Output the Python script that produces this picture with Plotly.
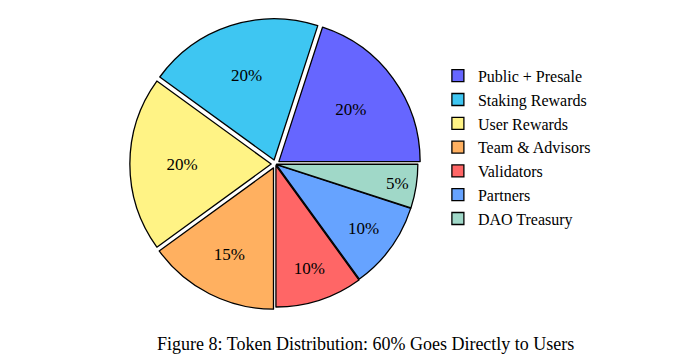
import plotly.graph_objects as go

labels = ["Public + Presale", "Staking Rewards", "User Rewards", "Team & Advisors",
          "Validators", "Partners", "DAO Treasury"]
values = [20, 20, 20, 15, 10, 10, 5]
colors = ["#6666FF", "#3EC6F2", "#FFF385", "#FFB060", "#FF6666", "#66A3FF", "#A0D8C8"]
pulls = [0.03, 0.03, 0.03, 0.03, 0.012, 0.008, 0.008]
caption = "Figure 8: Token Distribution: 60% Goes Directly to Users"

FONT = "Liberation Serif"

fig = go.Figure(go.Pie(
    labels=labels, values=values, sort=False, direction="counterclockwise",
    rotation=18, pull=pulls,
    marker=dict(colors=colors, line=dict(color="black", width=1.3)),
    textinfo="percent", texttemplate="%{value}%", textposition="inside",
    insidetextorientation="horizontal",
    textfont=dict(family=FONT, size=17, color="black"),
    domain=dict(x=[0.18, 0.61], y=[0.165, 0.975]),
    hoverinfo="label+percent",
))

fig.update_layout(
    width=677, height=363,
    margin=dict(l=0, r=0, t=0, b=0),
    paper_bgcolor="white", plot_bgcolor="white",
    font=dict(family=FONT, size=17, color="black"),
    showlegend=True,
    legend=dict(x=0.635, y=0.86, xanchor="left", yanchor="top",
                font=dict(family=FONT, size=16, color="black"),
                bgcolor="rgba(0,0,0,0)", itemwidth=30),
    annotations=[dict(text=caption, x=0.528, y=0.075, xref="paper", yref="paper",
                      showarrow=False, xanchor="center", yanchor="middle",
                      font=dict(family=FONT, size=18, color="black"))],
)

fig.write_html("out.html")
